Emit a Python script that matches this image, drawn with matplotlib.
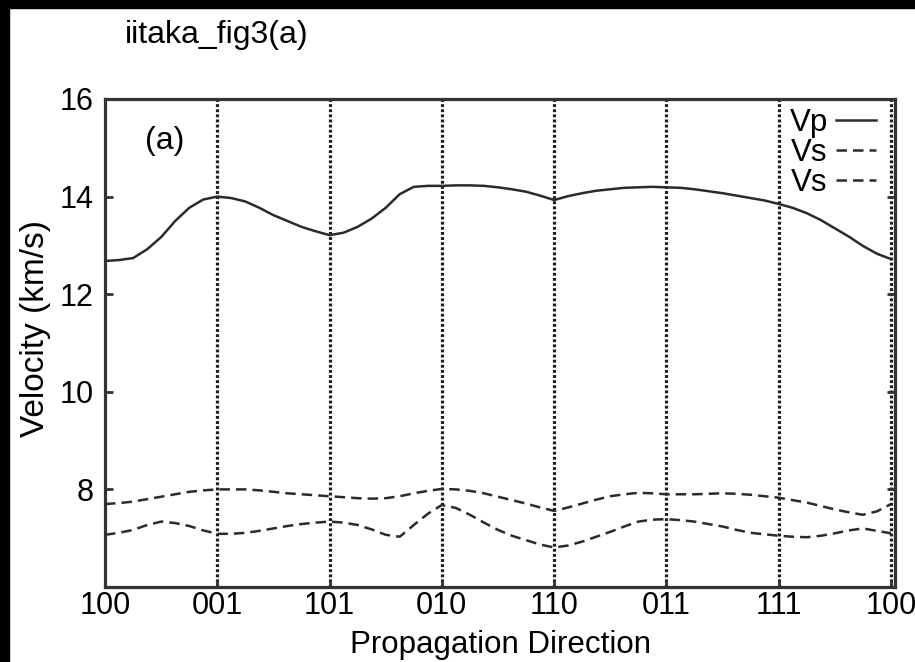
import matplotlib
matplotlib.use('Agg')
import matplotlib.pyplot as plt
from matplotlib.patches import Rectangle

plt.rcParams['font.family'] = ['Liberation Sans', 'DejaVu Sans']

# propagation directions along the path
directions = ['100', '001', '101', '010', '110', '011', '111', '100']

path_x = [0, 0.125, 0.25, 0.375, 0.5, 0.625, 0.75, 0.875, 1, 1.125, 1.25, 1.375,
          1.5, 1.625, 1.75, 1.875, 2, 2.125, 2.25, 2.375, 2.5, 2.625, 2.75, 2.875,
          3, 3.125, 3.25, 3.375, 3.5, 3.625, 3.75, 3.875, 4, 4.125, 4.25, 4.375,
          4.5, 4.625, 4.75, 4.875, 5, 5.125, 5.25, 5.375, 5.5, 5.625, 5.75, 5.875,
          6, 6.125, 6.25, 6.375, 6.5, 6.625, 6.75, 6.875, 7]

vp = [12.68, 12.70, 12.74, 12.92, 13.17, 13.50, 13.77, 13.94, 14.00, 13.97, 13.90, 13.77,
      13.62, 13.50, 13.38, 13.29, 13.21, 13.26, 13.38, 13.55, 13.77, 14.05, 14.20, 14.22,
      14.22, 14.23, 14.23, 14.22, 14.19, 14.15, 14.10, 14.02, 13.93, 14.01, 14.07, 14.12,
      14.15, 14.18, 14.19, 14.20, 14.19, 14.18, 14.15, 14.11, 14.07, 14.02, 13.97, 13.92,
      13.85, 13.77, 13.66, 13.52, 13.35, 13.18, 12.99, 12.83, 12.72]

vs1 = [7.70, 7.72, 7.75, 7.80, 7.85, 7.90, 7.95, 7.98, 8.00, 8.00, 8.00, 7.98,
       7.95, 7.92, 7.90, 7.88, 7.86, 7.84, 7.82, 7.81, 7.82, 7.86, 7.92, 7.97,
       8.01, 8.00, 7.97, 7.92, 7.85, 7.78, 7.71, 7.63, 7.56, 7.63, 7.71, 7.79,
       7.86, 7.90, 7.93, 7.92, 7.90, 7.90, 7.90, 7.91, 7.92, 7.91, 7.89, 7.86,
       7.83, 7.78, 7.73, 7.66, 7.59, 7.53, 7.48, 7.55, 7.70]

vs2 = [7.07, 7.11, 7.17, 7.27, 7.34, 7.31, 7.25, 7.16, 7.09, 7.09, 7.11, 7.15,
       7.20, 7.25, 7.29, 7.32, 7.34, 7.32, 7.27, 7.18, 7.07, 7.03, 7.27, 7.50,
       7.68, 7.62, 7.48, 7.32, 7.17, 7.05, 6.96, 6.87, 6.81, 6.85, 6.93, 7.03,
       7.13, 7.24, 7.34, 7.38, 7.39, 7.37, 7.34, 7.29, 7.24, 7.17, 7.11, 7.08,
       7.05, 7.03, 7.02, 7.05, 7.10, 7.16, 7.20, 7.15, 7.10]

line_col = '#2b2b2b'

fig = plt.figure(figsize=(9.15, 6.62), dpi=100)
fig.patch.set_facecolor('white')
# black scan border on left and top
fig.patches.append(Rectangle((0, 0), 9 / 915, 1, transform=fig.transFigure,
                             color='black', zorder=0))
fig.patches.append(Rectangle((0, 1 - 8 / 662), 1, 8 / 662, transform=fig.transFigure,
                             color='black', zorder=0))

ax = fig.add_axes([105 / 915, 1 - 587 / 662, 790 / 915, 488 / 662])

for xv in range(1, len(directions)):
    ax.axvline(xv, color='#1e1e1e', lw=2.3, linestyle=(0, (0.9, 0.7)), zorder=1)

ax.plot(path_x, vp, color=line_col, lw=1.8, label='Vp', zorder=3)
ax.plot(path_x, vs1, color=line_col, lw=1.8, linestyle=(0, (4.2, 2.4)),
        label='Vs', zorder=3)
ax.plot(path_x, vs2, color=line_col, lw=1.8, linestyle=(0, (4.2, 2.4)),
        label='Vs', zorder=3)

ax.set_xlim(0, 7.036)
ax.set_ylim(6, 16)
ax.set_xticks(range(len(directions)))
ax.set_xticklabels(directions)
ax.set_yticks([8, 10, 12, 14, 16])
ax.tick_params(axis='both', direction='in', length=6, width=2, color='#333333',
               labelsize=22)
ax.tick_params(axis='x', pad=3)
ax.tick_params(axis='y', right=True, pad=8)
for s in ax.spines.values():
    s.set_linewidth(2.3)
    s.set_color('#333333')

ax.set_xlabel('Propagation Direction', fontsize=22.5, labelpad=6)
ax.set_ylabel('Velocity (km/s)', fontsize=24)
ax.yaxis.set_label_coords(-0.068, 0.53)

ax.text(0.051, 0.913, '(a)', transform=ax.transAxes, fontsize=23, ha='left', va='center')

ax.legend(loc='upper right', bbox_to_anchor=(1.0, 1.02), frameon=False,
          markerfirst=False, fontsize=22.5, handlelength=1.3, handletextpad=0.25,
          labelspacing=0.0, borderaxespad=0.2)

fig.text(125 / 915, 1 - 35 / 662, 'iitaka_fig3(a)', fontsize=23, va='center', ha='left')

fig.savefig('out.png', dpi=100)
